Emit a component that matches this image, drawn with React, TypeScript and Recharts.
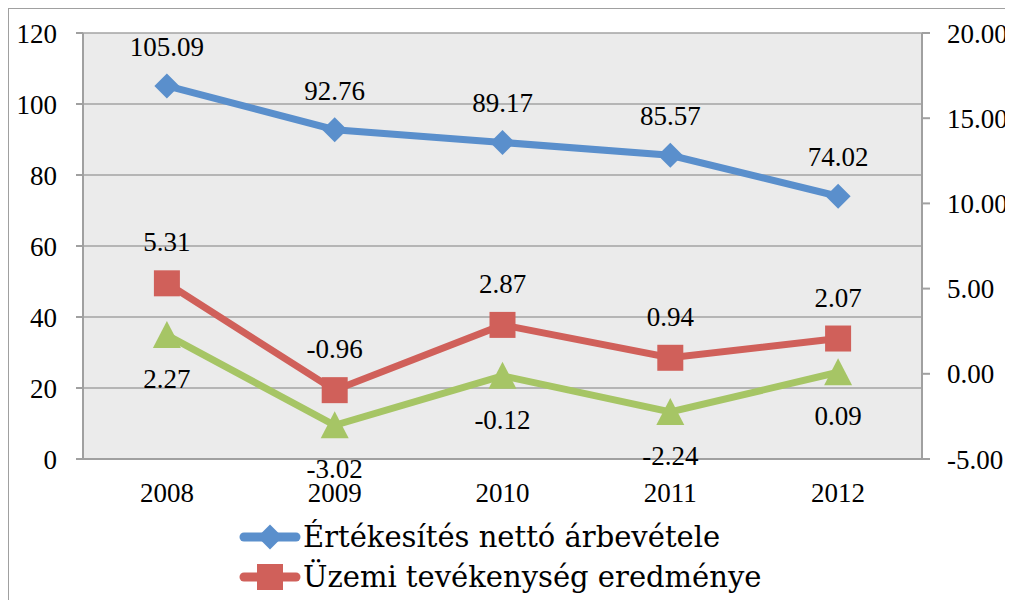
import React from 'react';
import {
  ComposedChart,
  Line,
  XAxis,
  YAxis,
  CartesianGrid,
  LabelList,
} from 'recharts';

// Chart values
const years = ['2008', '2009', '2010', '2011', '2012'];
const revenue = [105.09, 92.76, 89.17, 85.57, 74.02];
const operatingResult = [5.31, -0.96, 2.87, 0.94, 2.07];
const thirdSeries = [2.27, -3.02, -0.12, -2.24, 0.09];

const leftTicks = [0, 20, 40, 60, 80, 100, 120];
const rightTicks = [-5, 0, 5, 10, 15, 20];
const boundaryTicks = [0, 1, 2, 3, 4, 5];

const seriesNames = [
  'Értékesítés nettó árbevétele',
  'Üzemi tevékenység eredménye',
  'Adózott eredmény',
];

const BLUE = '#5A8FCC';
const RED = '#D0605A';
const GREEN = '#A6C565';
const AXIS = '#A0A0A0';
const NUM_FONT = '"Liberation Serif", serif';
const TEXT_FONT = '"DejaVu Serif", serif';

const data = years.map((year, i) => ({
  year,
  pos: i + 0.5,
  revenue: revenue[i],
  operating: operatingResult[i],
  third: thirdSeries[i],
}));

type Marker = 'diamond' | 'square' | 'triangle';

function markerShape(kind: Marker, cx: number, cy: number, color: string, s = 1) {
  if (kind === 'diamond') {
    const r = 12.5 * s;
    return (
      <polygon
        points={`${cx},${cy - r} ${cx + r},${cy} ${cx},${cy + r} ${cx - r},${cy}`}
        fill={color}
      />
    );
  }
  if (kind === 'square') {
    const h = 13 * s;
    return <rect x={cx - h} y={cy - h} width={h * 2} height={h * 2} fill={color} />;
  }
  const h = 14 * s;
  return (
    <polygon
      points={`${cx},${cy - h} ${cx + h},${cy + h - 1} ${cx - h},${cy + h - 1}`}
      fill={color}
    />
  );
}

const makeDot = (kind: Marker, color: string) => (props: any) => {
  const { cx, cy, index } = props;
  if (cx == null || cy == null) return <g key={`d-${index}`} />;
  return <g key={`d-${kind}-${index}`}>{markerShape(kind, cx, cy, color)}</g>;
};

const makeLabel = (dy: number) => (props: any) => {
  const { x, y, value, index } = props;
  return (
    <text
      key={`l-${index}`}
      x={x}
      y={y + dy}
      textAnchor="middle"
      dominantBaseline="central"
      fontFamily={NUM_FONT}
      fontSize={27}
      fill="#000"
    >
      {Number(value).toFixed(2)}
    </text>
  );
};

const legendItems: { name: string; color: string; kind: Marker }[] = [
  { name: seriesNames[0], color: BLUE, kind: 'diamond' },
  { name: seriesNames[1], color: RED, kind: 'square' },
  { name: seriesNames[2], color: GREEN, kind: 'triangle' },
];

const tickStyle = { fill: '#000', fontSize: 27, fontFamily: NUM_FONT };

export default function App() {
  return (
    <div
      style={{
        position: 'relative',
        width: 1005,
        height: 591,
        borderTop: `1px solid ${AXIS}`,
        borderLeft: `1px solid ${AXIS}`,
        overflow: 'hidden',
        background: '#fff',
      }}
    >
      <style>{'html, body { overflow: hidden; }'}</style>
      <ComposedChart
        width={1004}
        height={591}
        data={data}
        margin={{ top: 24, right: 0, left: 0, bottom: 81 }}
        style={{ overflow: 'visible' }}
      >
        <CartesianGrid
          xAxisId="cat"
          yAxisId="left"
          vertical={false}
          fill="#EBEBEB"
          stroke="#A3A3A3"
          strokeWidth={1.5}
        />
        <XAxis
          xAxisId="bounds"
          type="number"
          dataKey="pos"
          domain={[0, 5]}
          ticks={boundaryTicks}
          height={0}
          tick={false}
          axisLine={false}
          tickLine={{ stroke: AXIS, strokeWidth: 2 }}
          tickSize={7}
        />
        <XAxis
          xAxisId="cat"
          dataKey="year"
          scale="band"
          height={60}
          tickLine={false}
          axisLine={{ stroke: AXIS, strokeWidth: 2 }}
          tick={tickStyle}
          tickMargin={18}
          interval={0}
        />
        <YAxis
          yAxisId="left"
          width={74}
          domain={[0, 120]}
          ticks={leftTicks}
          tick={tickStyle}
          tickSize={7}
          tickMargin={19}
          axisLine={{ stroke: AXIS, strokeWidth: 2 }}
          tickLine={{ stroke: AXIS, strokeWidth: 2 }}
        />
        <YAxis
          yAxisId="right"
          orientation="right"
          width={91}
          domain={[-5, 20]}
          ticks={rightTicks}
          tickFormatter={(v: number) => v.toFixed(2)}
          tick={tickStyle}
          tickSize={8}
          tickMargin={17}
          axisLine={{ stroke: AXIS, strokeWidth: 2 }}
          tickLine={{ stroke: AXIS, strokeWidth: 2 }}
        />
        <Line
          xAxisId="cat"
          yAxisId="right"
          dataKey="third"
          name={seriesNames[2]}
          stroke={GREEN}
          strokeWidth={7}
          dot={makeDot('triangle', GREEN)}
          isAnimationActive={false}
        >
          <LabelList dataKey="third" content={makeLabel(44)} />
        </Line>
        <Line
          xAxisId="cat"
          yAxisId="right"
          dataKey="operating"
          name={seriesNames[1]}
          stroke={RED}
          strokeWidth={7}
          dot={makeDot('square', RED)}
          isAnimationActive={false}
        >
          <LabelList dataKey="operating" content={makeLabel(-41)} />
        </Line>
        <Line
          xAxisId="cat"
          yAxisId="left"
          dataKey="revenue"
          name={seriesNames[0]}
          stroke={BLUE}
          strokeWidth={7}
          dot={makeDot('diamond', BLUE)}
          isAnimationActive={false}
        >
          <LabelList dataKey="revenue" content={makeLabel(-39)} />
        </Line>
      </ComposedChart>

      {/* legend, third entry falls below the visible frame like in the original */}
      <div style={{ position: 'absolute', left: 229, top: 508 }}>
        {legendItems.map((item) => (
          <div
            key={item.name}
            style={{ display: 'flex', alignItems: 'center', height: 40 }}
          >
            <svg width={64} height={40}>
              <line
                x1={6}
                y1={20}
                x2={58}
                y2={20}
                stroke={item.color}
                strokeWidth={9}
                strokeLinecap="round"
              />
              {markerShape(item.kind, 32, 20, item.color, 1)}
            </svg>
            <span
              style={{
                fontFamily: TEXT_FONT,
                fontSize: 29,
                color: '#000',
                marginLeft: 1,
                whiteSpace: 'nowrap',
              }}
            >
              {item.name}
            </span>
          </div>
        ))}
      </div>
    </div>
  );
}
